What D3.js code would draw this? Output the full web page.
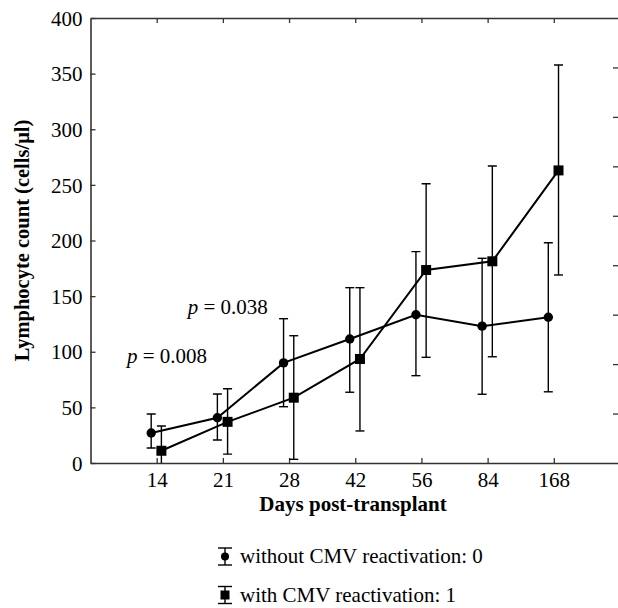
<!DOCTYPE html>
<html><head><meta charset="utf-8">
<script src="https://cdn.jsdelivr.net/npm/d3@7"></script>
<style>body{margin:0;background:#fff}svg{display:block}text{font-family:"Liberation Serif","Times New Roman",serif}</style>
</head><body>
<script>
const days = ["14","21","28","42","56","84","168"];
const yTicks = [0,50,100,150,200,250,300,350,400];
// without CMV reactivation (circles)
const noCmvMean  = [27, 40.7, 90, 111.5, 133.3, 123, 131];
const noCmvUpper = [44, 62, 129.7, 157.6, 190, 184, 198];
const noCmvLower = [13.5, 20.7, 50.6, 63.6, 78.5, 61.8, 64];
// with CMV reactivation (squares)
const cmvMean  = [11, 37, 58.7, 93.5, 173.5, 181.3, 263];
const cmvUpper = [33.3, 66.8, 114.4, 157.6, 251, 267, 357.8];
const cmvLower = [-10, 8, 3.3, 28.8, 95, 95.5, 169];
// p-value annotations (x in day-slot units, y in cells/μl)
const pValues = ["0.008","0.038"];
const pPosX = [0.55, 1.47];
const pPosY = [90, 134];
const legendLabels = ["without CMV reactivation: 0","with CMV reactivation: 1"];

const W=618,H=608;
const svg=d3.select("body").append("svg").attr("width",W).attr("height",H);
const x=d3.scaleLinear().domain([0,8]).range([90.5,620]);
const y=d3.scaleLinear().domain([0,400]).range([463,18]);
const yR=d3.scaleLinear().domain([0,9]).range([463,18]);
const axisCol="#333";
const F=21;
const serif="Liberation Serif";

svg.append("defs").append("clipPath").attr("id","clip").append("rect")
  .attr("x",90.5).attr("y",18).attr("width",530).attr("height",445);

const gL=svg.append("g").attr("transform","translate(90.5,0)")
  .call(d3.axisLeft(y).tickValues(yTicks).tickSizeInner(-5).tickSizeOuter(0).tickPadding(8));
const gB=svg.append("g").attr("transform","translate(0,463)")
  .call(d3.axisBottom(x).tickValues(d3.range(1,8)).tickFormat(i=>days[i-1]).tickSizeInner(-5).tickSizeOuter(0).tickPadding(9));
const gT=svg.append("g").attr("transform","translate(0,18)")
  .call(d3.axisTop(x).tickValues(d3.range(1,8)).tickFormat("").tickSizeInner(-5).tickSizeOuter(0));
const gR=svg.append("g").attr("transform","translate(618,0)")
  .call(d3.axisRight(yR).tickValues(d3.range(1,9)).tickFormat("").tickSizeInner(-5).tickSizeOuter(0));
gR.select(".domain").remove();
[gL,gB,gT,gR].forEach(g=>{
  g.attr("font-family",serif).attr("font-size",F);
  g.selectAll(".domain").attr("stroke",axisCol).attr("stroke-width",1.6);
  g.selectAll(".tick line").attr("stroke",axisCol).attr("stroke-width",1.3);
  g.selectAll(".tick text").attr("fill","#000");
});
gL.selectAll(".tick text").attr("dy","0.34em");

svg.append("text").attr("transform","translate(29,240.5) rotate(-90)").attr("text-anchor","middle")
  .attr("font-family",serif).attr("font-size",20.5).attr("font-weight","bold").text("Lymphocyte count (cells/μl)");
svg.append("text").attr("x",353).attr("y",511).attr("text-anchor","middle")
  .attr("font-family",serif).attr("font-size",21).attr("font-weight","bold").text("Days post-transplant");

const plot=svg.append("g").attr("clip-path","url(#clip)");
function series(mean,upper,lower,off,shape){
  const pts=mean.map((m,i)=>({x:x(i+1)+off,m,u:upper[i],l:lower[i]}));
  const g=plot.append("g");
  g.selectAll(".eb").data(pts).join("line").attr("x1",d=>d.x).attr("x2",d=>d.x)
    .attr("y1",d=>y(d.u)).attr("y2",d=>y(d.l)).attr("stroke","#000").attr("stroke-width",1.4);
  const caps=pts.flatMap(d=>[d.u,d.l].map(v=>({x:d.x,v})));
  g.selectAll(".cap").data(caps).join("line").attr("x1",d=>d.x-4.5).attr("x2",d=>d.x+4.5)
    .attr("y1",d=>y(d.v)).attr("y2",d=>y(d.v)).attr("stroke","#000").attr("stroke-width",1.4);
  g.append("path").datum(pts).attr("d",d3.line().x(d=>d.x).y(d=>y(d.m)))
    .attr("fill","none").attr("stroke","#000").attr("stroke-width",2);
  if(shape==="circle"){
    g.selectAll(".mk").data(pts).join("circle").attr("cx",d=>d.x).attr("cy",d=>y(d.m)).attr("r",4.7).attr("fill","#000");
  } else {
    g.selectAll(".mk").data(pts).join("rect").attr("x",d=>d.x-5).attr("y",d=>y(d.m)-5).attr("width",10).attr("height",10).attr("fill","#000");
  }
}
series(noCmvMean,noCmvUpper,noCmvLower,-5.5,"circle");
series(cmvMean,cmvUpper,cmvLower,4.7,"square");

pValues.forEach((v,i)=>{
  const t=svg.append("text").attr("x",x(pPosX[i])).attr("y",y(pPosY[i]))
    .attr("font-family",serif).attr("font-size",F);
  t.append("tspan").attr("font-style","italic").text("p");
  t.append("tspan").text(" = "+v);
});

legendLabels.forEach((lab,i)=>{
  const cy=[556.5,595][i], cx=225;
  const g=svg.append("g");
  g.append("line").attr("x1",cx).attr("x2",cx).attr("y1",cy-8.5).attr("y2",cy+8.5).attr("stroke","#000").attr("stroke-width",1.4);
  [cy-8.5,cy+8.5].forEach(v=>g.append("line").attr("x1",cx-7).attr("x2",cx+7).attr("y1",v).attr("y2",v).attr("stroke","#000").attr("stroke-width",1.4));
  if(i===0) g.append("circle").attr("cx",cx).attr("cy",cy).attr("r",4).attr("fill","#000");
  else g.append("rect").attr("x",cx-4.5).attr("y",cy-4.5).attr("width",9).attr("height",9).attr("fill","#000");
  svg.append("text").attr("x",240).attr("y",cy+6.5).attr("font-family",serif).attr("font-size",F).text(lab);
});
</script>
</body></html>
